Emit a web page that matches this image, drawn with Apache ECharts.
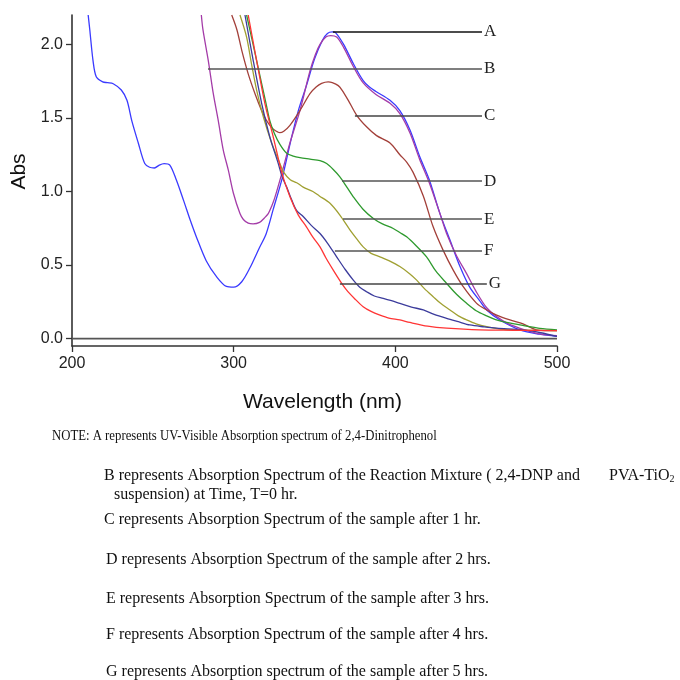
<!DOCTYPE html>
<html>
<head>
<meta charset="utf-8">
<script src="https://cdn.jsdelivr.net/npm/echarts@6/dist/echarts.min.js"></script>
<style>
  html, body { margin: 0; padding: 0; background: #fff; }
  #main { width: 680px; height: 680px; }
</style>
</head>
<body>
<div id="main"></div>
<script>
// spectra: [wavelength nm, Abs]
var specA = [[210,2.2],[211,2.1],[213,1.89],[215,1.78],[219,1.745],[222,1.74],[225.5,1.733],[230.5,1.69],[234,1.62],[237,1.48],[241,1.33],[245,1.19],[248,1.165],[251,1.16],[254,1.18],[257,1.19],[260.5,1.18],[264.5,1.08],[269,0.94],[273,0.81],[277,0.69],[283,0.53],[289.5,0.42],[295.5,0.355],[300,0.35],[305,0.387],[310,0.48],[316,0.62],[320,0.71],[324.5,0.88],[330,1.09],[335,1.33],[340,1.55],[345,1.72],[350,1.9],[355,2.03],[358,2.075],[361,2.085],[363,2.08],[368,2.0],[374,1.87],[380,1.756],[384,1.71],[388,1.68],[396.7,1.62],[402.8,1.55],[409,1.42],[415,1.24],[421,1.08],[427.6,0.85],[433.8,0.67],[440,0.49],[446,0.35],[452,0.26],[456.5,0.195],[464.7,0.127],[477,0.06],[489,0.03],[500,0.015]];
var specB = [[280,2.2],[281,2.1],[284.3,1.89],[287.4,1.665],[290.5,1.48],[293.6,1.28],[296.7,1.145],[299.8,0.99],[303.9,0.85],[306,0.81],[309,0.785],[312,0.78],[316,0.79],[319,0.82],[321.4,0.85],[323.5,0.9],[325.5,0.96],[329.7,1.12],[334.8,1.33],[341,1.55],[347.2,1.82],[350.5,1.93],[353.4,2.0],[357,2.05],[360,2.06],[363.7,2.05],[368,1.98],[374,1.85],[380,1.74],[388,1.66],[396.7,1.6],[402.8,1.53],[409,1.4],[415,1.22],[421,1.06],[427.6,0.85],[431.7,0.715],[438,0.56],[444,0.444],[450,0.32],[456.5,0.21],[462.7,0.15],[470,0.1],[480,0.06],[490,0.03],[500,0.02]];
var specC = [[298.8,2.2],[302,2.1],[305,1.96],[309,1.8],[313.2,1.665],[317.3,1.55],[320,1.49],[322.4,1.45],[325,1.42],[328.6,1.4],[331,1.41],[334.8,1.45],[341,1.55],[347.2,1.665],[351,1.71],[354.4,1.735],[358.5,1.745],[361,1.74],[364.7,1.72],[367,1.69],[370.9,1.62],[376,1.52],[382.2,1.44],[388.4,1.38],[396.7,1.33],[402.8,1.25],[407,1.2],[411,1.13],[417.3,0.97],[423.4,0.76],[429.6,0.6],[435.8,0.466],[442,0.353],[450.3,0.24],[456.5,0.195],[462.7,0.16],[470.9,0.127],[479,0.1],[487.4,0.06],[500,0.054]];
var specD = [[308,2.2],[312,2.0],[316,1.8],[320,1.6],[322.4,1.48],[325,1.4],[328.6,1.32],[332.8,1.26],[336.9,1.24],[341,1.23],[347.2,1.22],[353.4,1.21],[357.5,1.19],[361.6,1.15],[365.7,1.1],[370,1.03],[374,0.964],[380,0.88],[386.4,0.817],[392,0.78],[398.7,0.749],[403,0.72],[407,0.692],[413,0.63],[419.3,0.556],[425,0.46],[431.7,0.376],[438,0.3],[444.1,0.24],[450,0.19],[456.5,0.155],[462,0.13],[468.8,0.11],[481.2,0.085],[489.4,0.07],[500,0.06]];
var specE = [[303.9,2.2],[308,2.05],[311,1.87],[314.2,1.69],[318.3,1.51],[323.5,1.33],[328.6,1.19],[331,1.13],[335,1.08],[339,1.06],[343,1.03],[349,1.0],[353,0.97],[359.6,0.92],[365.7,0.84],[371.9,0.74],[376,0.68],[380.1,0.624],[385,0.58],[390.5,0.556],[396,0.53],[402.8,0.49],[409,0.44],[413.2,0.398],[418,0.34],[423.4,0.285],[428,0.24],[433.8,0.195],[439,0.155],[444.1,0.127],[450,0.1],[456.5,0.081],[465,0.065],[473,0.059],[500,0.055]];
var specF = [[307,2.2],[312.1,1.89],[317.3,1.6],[322.4,1.37],[327.6,1.19],[330,1.1],[332.8,1.03],[336,0.94],[339,0.87],[343,0.83],[348,0.77],[353.4,0.715],[358,0.65],[363.7,0.556],[369,0.47],[374,0.398],[378,0.35],[382.2,0.319],[387,0.29],[392.5,0.274],[397,0.26],[402.8,0.24],[410,0.215],[417.3,0.195],[424,0.165],[431.7,0.138],[439,0.115],[446.1,0.093],[455,0.08],[462.7,0.071],[479,0.059],[490,0.04],[500,0.015]];
var specG = [[309,2.2],[314.2,1.89],[319.3,1.6],[324.5,1.37],[330,1.12],[335,0.96],[340,0.84],[345,0.76],[349,0.69],[353.4,0.624],[357,0.55],[361.6,0.466],[366,0.39],[369.9,0.33],[375,0.27],[380.1,0.217],[385,0.185],[390.5,0.16],[396,0.14],[402.8,0.127],[409,0.11],[420,0.085],[431.7,0.071],[452,0.059],[473,0.057],[500,0.055]];
var baseline = [[200,0],[286,0],[287,0.012],[288,0],[500,0]];

var letters = ['A','B','C','D','E','F','G'];
var leaderY = [2.088, 1.837, 1.518, 1.07, 0.812, 0.599, 0.376];
var leaderStart = [361.4, 284.1, 375.0, 367.0, 367.6, 362.6, 365.7];
var leaderEnd = [453.6, 453.6, 453.6, 453.6, 453.6, 453.6, 456.6];
var yTicks = [0, 0.5, 1.0, 1.5, 2.0];

var noteLines = [
  'NOTE: A represents UV-Visible Absorption spectrum of 2,4-Dinitrophenol',
  'B represents Absorption Spectrum of the Reaction Mixture ( 2,4-DNP and',
  'suspension) at Time, T=0 hr.',
  'C represents Absorption Spectrum of the sample after 1 hr.',
  'D represents Absorption Spectrum of the sample after 2 hrs.',
  'E represents Absorption Spectrum of the sample after 3 hrs.',
  'F represents Absorption Spectrum of the sample after 4 hrs.',
  'G represents Absorption spectrum of the sample after 5 hrs.'
];

var spectra = [specA, specB, specC, specD, specE, specF, specG];
var colors = ['#3a3aff', '#a43ca8', '#a3403a', '#2e9a2e', '#a0a032', '#3c3c9c', '#ff3535'];
var leaderColors = ['#111', '#555', '#444', '#555', '#555', '#555', '#444'];

var chart = echarts.init(document.getElementById('main'));

var series = spectra.map(function (d, i) {
  return {
    name: letters[i],
    type: 'line',
    data: d,
    symbol: 'none',
    smooth: 0.3,
    z: 3,
    lineStyle: { color: colors[i], width: 1.3 },
    markLine: {
      symbol: 'none',
      silent: true,
      animation: false,
      lineStyle: { color: leaderColors[i], width: 1.5, type: 'solid' },
      label: {
        show: true,
        position: 'end',
        formatter: letters[i],
        fontFamily: 'Liberation Serif',
        fontSize: 17,
        color: '#222',
        distance: 2
      },
      emphasis: { disabled: true },
      data: [[{ coord: [leaderStart[i], leaderY[i]] }, { coord: [leaderEnd[i], leaderY[i]] }]]
    }
  };
});
series.push({
  name: 'base',
  type: 'line',
  data: baseline,
  symbol: 'none',
  z: 2,
  lineStyle: { color: '#555', width: 1.6 }
});

var graphics = [];
var notePos = [[52, 437], [104, 477], [114, 496], [104, 521], [106, 561], [106, 600], [106, 636], [106, 673]];
var noteSize = [15, 16, 16, 16, 16, 16, 16, 16];
var noteScale = [0.85, 1, 1, 1, 1, 1, 1, 1];
noteLines.forEach(function (t, i) {
  graphics.push({
    type: 'text',
    left: notePos[i][0],
    top: notePos[i][1] - noteSize[i] * 0.55,
    scaleX: noteScale[i],
    style: { text: t, font: noteSize[i] + 'px "Liberation Serif"', fill: '#111' }
  });
});
graphics.push({
  type: 'text',
  left: 609,
  top: 468,
  style: {
    text: 'PVA-TiO{s|2}',
    font: '16px "Liberation Serif"',
    fill: '#111',
    rich: { s: { fontSize: 10, fontFamily: 'Liberation Serif', verticalAlign: 'bottom', padding: [7, 0, 0, 0] } }
  }
});

var option = {
  backgroundColor: '#fff',
  animation: false,
  grid: { left: 72, right: 123, top: 15, bottom: 334 },
  xAxis: {
    type: 'value',
    min: 200,
    max: 500,
    interval: 100,
    name: 'Wavelength (nm)',
    nameLocation: 'middle',
    nameGap: 46,
    nameTextStyle: { fontFamily: 'Liberation Sans', fontSize: 21, color: '#111', padding: [0, 0, 0, 16] },
    axisLine: { onZero: false, lineStyle: { color: '#333', width: 1.6 } },
    axisTick: { inside: false, length: 6, lineStyle: { color: '#333', width: 1.3 } },
    axisLabel: { margin: 10, fontFamily: 'Liberation Sans', fontSize: 16, color: '#222' },
    splitLine: { show: false }
  },
  yAxis: {
    type: 'value',
    min: -0.05,
    max: 2.2,
    name: 'Abs',
    nameLocation: 'middle',
    nameGap: 37,
    nameTextStyle: { fontFamily: 'Liberation Sans', fontSize: 21, color: '#111', padding: [0, 0, 0, 18] },
    axisLine: { show: true, onZero: false, lineStyle: { color: '#333', width: 1.6 } },
    axisTick: { show: true, length: 6, customValues: yTicks, lineStyle: { color: '#333', width: 1.3 } },
    axisLabel: {
      margin: 9,
      customValues: yTicks,
      fontFamily: 'Liberation Sans',
      fontSize: 16,
      color: '#222',
      formatter: function (v) { return v.toFixed(1); }
    },
    splitLine: { show: false }
  },
  graphic: graphics,
  series: series
};

chart.setOption(option);
</script>
</body>
</html>
